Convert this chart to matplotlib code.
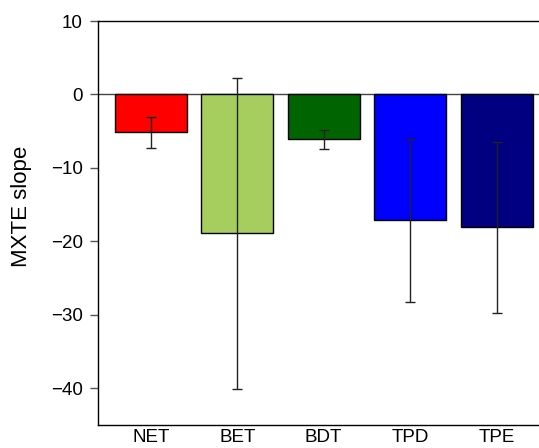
import matplotlib.pyplot as plt
import numpy as np

plt.rcParams.update({
    'font.family': ['Liberation Sans', 'DejaVu Sans'],
    'font.size': 13.5,
})

groups = ['NET', 'BET', 'BDT', 'TPD', 'TPE']
slopes = [-5.1, -18.9, -6.0, -17.1, -18.05]
err_centers = [-5.15, -18.9, -6.1, -17.2, -18.1]
errors = [2.1, 21.2, 1.3, 11.1, 11.6]
colors = ['#FF0000', '#A5CE5F', '#006400', '#0000FF', '#000080']

fig = plt.figure(figsize=(5.39, 4.48), dpi=100)
ax = fig.add_axes([0.1818, 0.0513, 0.8182, 0.9018])

x = np.arange(len(groups))
ax.bar(x, slopes, width=0.83, color=colors, edgecolor='black', linewidth=1.0, zorder=2)
ax.errorbar(x, err_centers, yerr=errors, fmt='none', ecolor='#222222',
            elinewidth=1.0, capsize=3.5, capthick=1.0, zorder=3)
ax.axhline(0, color='#444444', linewidth=1.0, zorder=1)

ax.set_xlim(-0.61, 4.49)
ax.set_ylim(-45, 10)
ax.set_yticks([10, 0, -10, -20, -30, -40])
ax.set_xticks(x)
ax.set_xticklabels(groups)
ax.tick_params(axis='x', length=0, pad=3)
ax.tick_params(axis='y', length=6, width=1, color='#555555', pad=5)
ax.set_ylabel('MXTE slope', fontsize=16)
ax.yaxis.set_label_coords(-0.15, 0.54)

ax.spines['right'].set_visible(False)
ax.spines['top'].set_visible(True)
for s in ['left', 'bottom', 'top']:
    ax.spines[s].set_linewidth(1.0)

plt.savefig('out.png', dpi=100, facecolor='white')
plt.close()
